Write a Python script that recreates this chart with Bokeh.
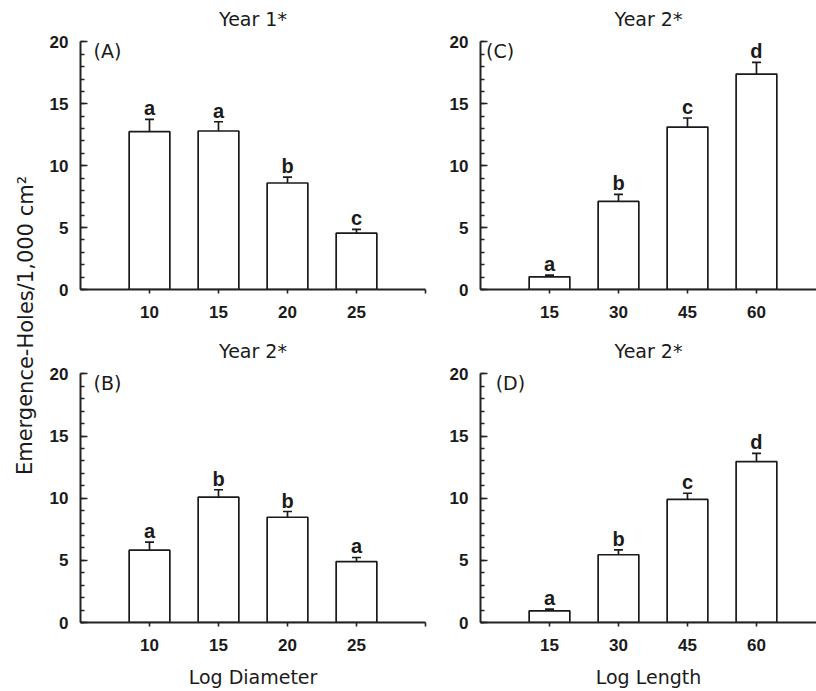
from bokeh.plotting import figure
from bokeh.layouts import row, column
from bokeh.models import FixedTicker, Whisker, ColumnDataSource, Range1d, TeeHead
from bokeh.core.properties import value
from bokeh.embed import file_html
from bokeh.resources import INLINE

FONT = "DejaVu Sans"
BFONT = "Liberation Sans"
INK = "#1a1a1a"

# ---- data ----
diam_labels = ["10", "15", "20", "25"]
len_labels = ["15", "30", "45", "60"]

a_mean = [12.75, 12.8, 8.6, 4.55]
a_se = [0.99, 0.75, 0.48, 0.30]
a_letters = ["a", "a", "b", "c"]

b_mean = [5.82, 10.08, 8.47, 4.9]
b_se = [0.64, 0.6, 0.46, 0.33]
b_letters = ["a", "b", "b", "a"]

c_mean = [1.02, 7.11, 13.12, 17.4]
c_se = [0.14, 0.57, 0.73, 0.95]
c_letters = ["a", "b", "c", "d"]

d_mean = [0.94, 5.45, 9.9, 12.95]
d_se = [0.13, 0.4, 0.5, 0.65]
d_letters = ["a", "b", "c", "d"]

y_ticks = [0, 5, 10, 15, 20]


def panel(cats, means, ses, letters, tag, title, title_offset, tag_x, xmax,
          width, height, border_top, border_bottom, border_left, border_right,
          xlabel=None):
    pos = list(range(1, len(cats) + 1))
    tops = [m + s for m, s in zip(means, ses)]
    src = ColumnDataSource(dict(x=pos, top=means, err=tops, letter=letters))
    p = figure(width=width, height=height, output_backend="svg",
               toolbar_location=None, x_range=Range1d(0, xmax),
               y_range=Range1d(0, 21), min_border_top=border_top,
               min_border_bottom=border_bottom, min_border_left=border_left,
               min_border_right=border_right, title=title)
    p.outline_line_color = None
    p.grid.visible = False
    p.background_fill_color = "white"
    p.border_fill_color = "white"

    p.title.align = "center"
    p.title.offset = title_offset
    p.title.text_font = FONT
    p.title.text_font_size = "19px"
    p.title.text_font_style = "normal"
    p.title.text_color = INK
    p.title.standoff = 0

    p.vbar(x="x", top="top", bottom=0, width=0.59, source=src,
           fill_color="white", line_color=INK, line_width=1.7)
    w = Whisker(base="x", upper="err", lower="top", source=src,
                line_color=INK, line_width=1.7,
                upper_head=TeeHead(size=9, line_color=INK, line_width=1.7),
                lower_head=None)
    p.add_layout(w)
    p.text(x="x", y="err", text="letter", source=src, text_align="center",
           text_baseline="alphabetic", y_offset=-11,
           text_font=value(BFONT), text_font_size="20px",
           text_font_style="bold", text_color=INK)
    p.text(x=[tag_x], y=[20.15], text=[tag], text_align="left",
           text_baseline="top", text_font=value(FONT),
           text_font_size="19px", text_color=INK)

    # y axis
    ya = p.yaxis[0]
    ya.ticker = FixedTicker(ticks=y_ticks, minor_ticks=list(range(0, 21)))
    ya.bounds = (0, 20)
    ya.major_tick_in = 7
    ya.major_tick_out = 0
    ya.minor_tick_in = 4
    ya.minor_tick_out = 0
    ya.major_label_standoff = 12
    ya.major_label_text_font = BFONT
    ya.major_label_text_font_size = "17px"
    ya.major_label_text_font_style = "bold"
    ya.major_label_text_color = INK
    ya.axis_line_color = "#222222"
    ya.axis_line_width = 2
    ya.major_tick_line_color = "#222222"
    ya.major_tick_line_width = 1.6
    ya.minor_tick_line_color = "#222222"
    ya.minor_tick_line_width = 1.4

    # x axis
    xa = p.xaxis[0]
    overrides = {i + 1: c for i, c in enumerate(cats)}
    overrides[5] = ""
    xa.ticker = FixedTicker(ticks=pos + [5])
    xa.major_label_overrides = overrides
    xa.major_tick_in = 0
    xa.major_tick_out = 4
    xa.minor_tick_line_color = None
    xa.major_label_standoff = 12
    xa.major_label_text_font = BFONT
    xa.major_label_text_font_size = "17px"
    xa.major_label_text_font_style = "bold"
    xa.major_label_text_color = INK
    xa.axis_line_color = "#222222"
    xa.axis_line_width = 2
    xa.major_tick_line_color = "#222222"
    xa.major_tick_line_width = 1.6
    if xlabel:
        xa.axis_label = xlabel
        xa.axis_label_text_font = FONT
        xa.axis_label_text_font_size = "19px"
        xa.axis_label_text_font_style = "normal"
        xa.axis_label_text_color = INK
        xa.axis_label_standoff = 12
    return p


pA = panel(diam_labels, a_mean, a_se, a_letters, "(A)", "Year 1*", 37, 0.19, 5.0,
           400, 330, 29, 41, 40, 15)
pC = panel(len_labels, c_mean, c_se, c_letters, "(C)", "Year 2*", 7, 0.08, 4.87,
           376, 330, 29, 41, 40, 0)
pB = panel(diam_labels, b_mean, b_se, b_letters, "(B)", "Year 2*", 39, 0.19, 5.0,
           400, 361, 31, 69, 40, 15, xlabel="Log Diameter")
pD = panel(len_labels, d_mean, d_se, d_letters, "(D)", "Year 2*", 7, 0.22, 4.87,
           376, 361, 31, 69, 40, 0, xlabel="Log Length")

# shared y-axis title
lab = figure(width=40, height=691, output_backend="svg", toolbar_location=None,
             x_range=Range1d(0, 40), y_range=Range1d(0, 691),
             x_axis_location=None, y_axis_location=None, min_border=0)
lab.outline_line_color = None
lab.grid.visible = False
lab.text(x=[25], y=[691 - 325], text=["Emergence-Holes/1,000 cm\u00b2"],
         angle=1.5707963, text_align="center", text_baseline="middle",
         text_font=value(FONT), text_font_size="21px", text_color=INK)

layout = row(lab, column(row(pA, pC), row(pB, pD)))

open("out.html", "w").write(file_html(layout, INLINE))
